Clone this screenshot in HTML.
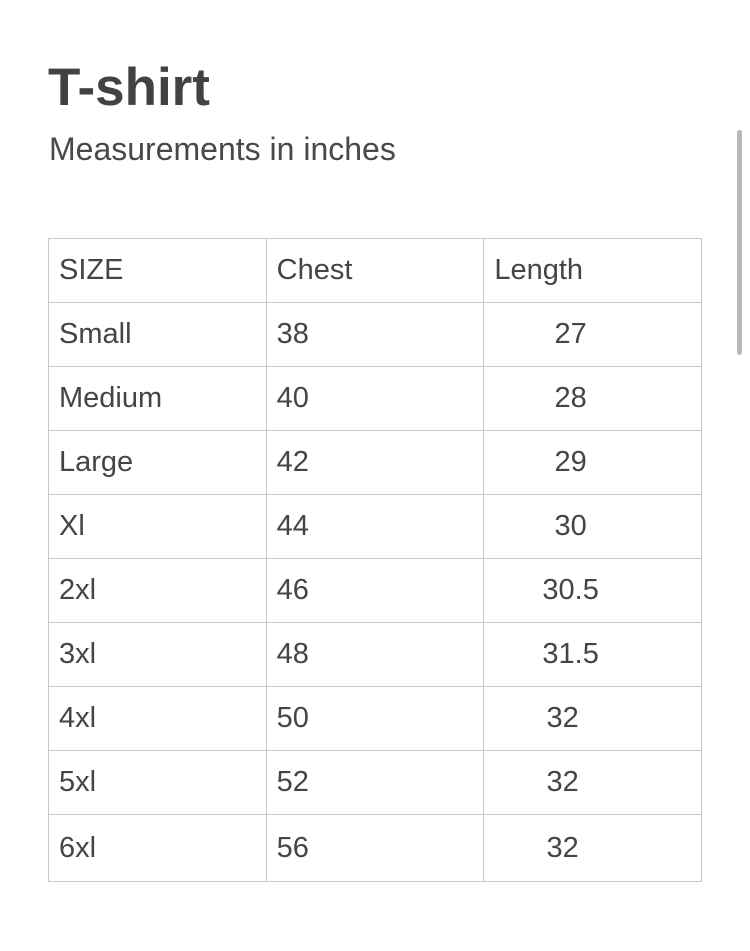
<!DOCTYPE html>
<html><head><meta charset="utf-8"><style>
body{margin:0;width:750px;height:951px;background:#fff;font-family:"Liberation Sans",sans-serif;color:#454545;position:relative;overflow:hidden}
#title{position:absolute;left:48px;top:57px;font-size:53px;font-weight:bold;margin:0;line-height:62px;color:#424242}
#sub{position:absolute;left:49px;top:131px;font-size:32px;line-height:36px;color:#484848}
table{position:absolute;left:48px;top:238px;border-collapse:collapse;width:654px}
td{border:1px solid #c8c8c8;height:64px;padding:0 0 0 10px;font-size:29px;width:207px;box-sizing:border-box;vertical-align:middle}
td.c{text-align:center;padding:0 44px 0 0}
#scroll{position:absolute;left:737px;top:130px;width:5px;height:225px;background:#b8b8b8;border-radius:3px}
</style></head><body>
<h1 id="title">T-shirt</h1>
<div id="sub">Measurements in inches</div>
<div id="scroll"></div>
<table>
<tr><td>SIZE</td><td>Chest</td><td>Length</td></tr>
<tr><td>Small</td><td>38</td><td class="c">27</td></tr>
<tr><td>Medium</td><td>40</td><td class="c">28</td></tr>
<tr><td>Large</td><td>42</td><td class="c">29</td></tr>
<tr><td>Xl</td><td>44</td><td class="c">30</td></tr>
<tr><td>2xl</td><td>46</td><td class="c">30.5</td></tr>
<tr><td>3xl</td><td>48</td><td class="c">31.5</td></tr>
<tr><td>4xl</td><td>50</td><td class="c" style="padding-right:60px">32</td></tr>
<tr><td>5xl</td><td>52</td><td class="c" style="padding-right:60px">32</td></tr>
<tr><td style="height:67px">6xl</td><td>56</td><td class="c" style="padding-right:60px">32</td></tr>
</table>
</body></html>
